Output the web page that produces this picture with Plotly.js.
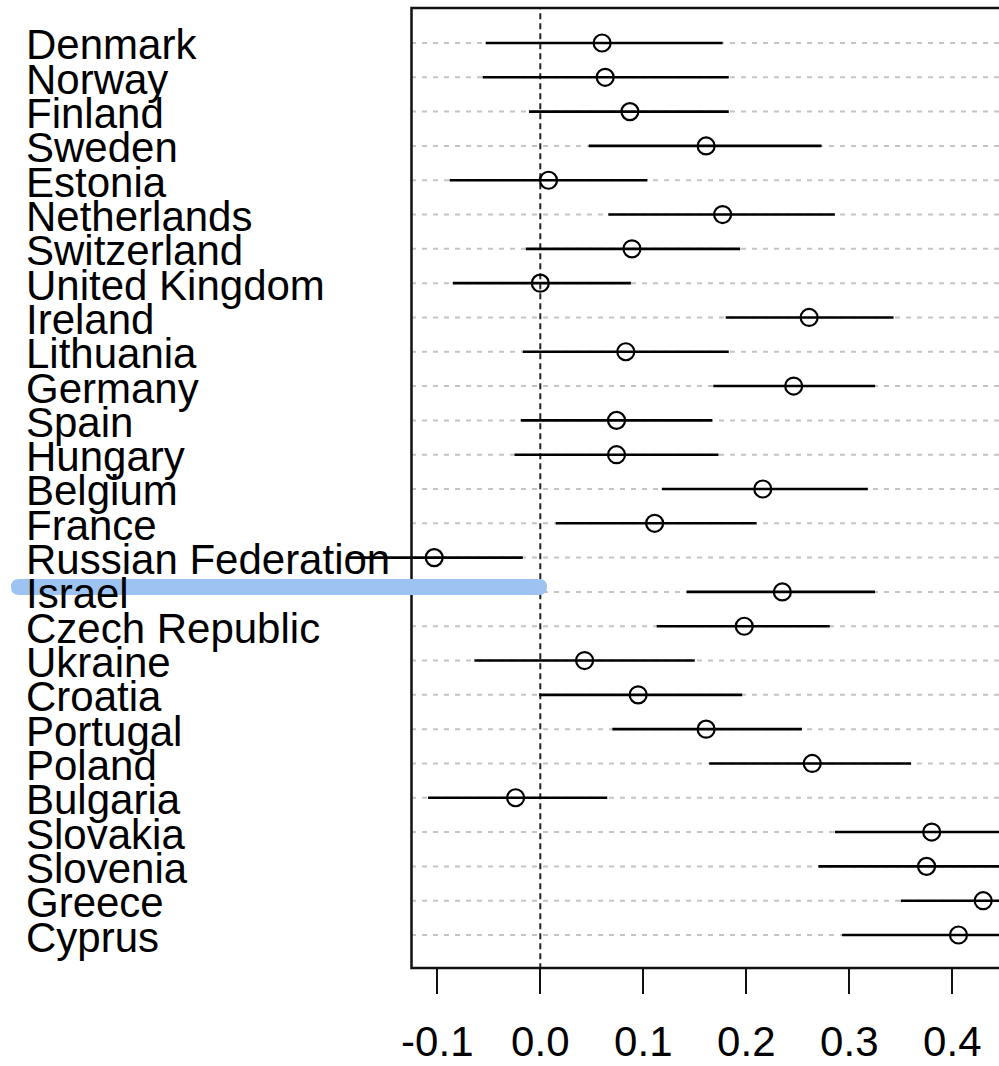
<!DOCTYPE html>
<html>
<head>
<meta charset="utf-8">
<script src="https://cdn.plot.ly/plotly-3.0.1.min.js"></script>
<style>html,body{margin:0;padding:0;background:#fff;}#chart{width:999px;height:1066px;}</style>
</head>
<body>
<div id="chart"></div>
<script>
var countries = ["Denmark","Norway","Finland","Sweden","Estonia","Netherlands","Switzerland","United Kingdom","Ireland","Lithuania","Germany","Spain","Hungary","Belgium","France","Russian Federation","Israel","Czech Republic","Ukraine","Croatia","Portugal","Poland","Bulgaria","Slovakia","Slovenia","Greece","Cyprus"];
var estimate = [0.060,0.063,0.087,0.161,0.008,0.177,0.089,0.000,0.261,0.083,0.246,0.074,0.074,0.216,0.111,-0.103,0.235,0.198,0.043,0.095,0.161,0.264,-0.024,0.380,0.375,0.430,0.406];
var lower = [-0.053,-0.056,-0.011,0.047,-0.088,0.066,-0.014,-0.085,0.180,-0.017,0.168,-0.019,-0.025,0.118,0.015,-0.187,0.142,0.113,-0.064,-0.001,0.070,0.164,-0.109,0.286,0.270,0.350,0.293];
var upper = [0.177,0.183,0.183,0.273,0.104,0.286,0.194,0.088,0.343,0.183,0.325,0.167,0.173,0.318,0.210,-0.017,0.325,0.281,0.150,0.196,0.254,0.360,0.065,0.474,0.480,0.510,0.519];
var tickVals = [-0.1,0.0,0.1,0.2,0.3,0.4];
var tickText = ["-0.1","0.0","0.1","0.2","0.3","0.4"];

var n = countries.length;
var yPos = countries.map(function(c,i){ return n - i; });

// layout geometry (pixels)
var W = 999, H = 1066;
var mL = 330, mR = 0, mT = 8, mB = 98;
var plotW = W - mL - mR, plotH = H - mT - mB;
function px2paperX(px){ return (px - mL) / plotW; }
function px2paperY(py){ return (H - mB - py) / plotH; }
var frameLeftData = -0.1255;

// CI segments
var segX = [], segY = [];
for (var i = 0; i < n; i++) {
  segX.push(lower[i], upper[i], null);
  segY.push(yPos[i], yPos[i], null);
}

var traces = [
  {type:'scatter', mode:'lines', x:segX, y:segY, line:{color:'#000', width:2.6}, hoverinfo:'skip', showlegend:false},
  {type:'scatter', mode:'markers', x:estimate, y:yPos, marker:{symbol:'circle-open', size:17, color:'#000', line:{width:2.2, color:'#000'}}, showlegend:false, cliponaxis:false}
];

var shapes = [];
// dotted gridlines
for (var j = 0; j < n; j++) {
  shapes.push({type:'line', xref:'x', yref:'y', x0:frameLeftData, x1:0.6, y0:yPos[j], y1:yPos[j], layer:'below', line:{color:'#c4c4c4', width:2, dash:'5px,6px'}});
}
// vertical dashed line at 0
shapes.push({type:'line', xref:'x', yref:'y', x0:0, x1:0, y0:0, y1:30, layer:'below', line:{color:'#222', width:2, dash:'6px,4px'}});
// frame
shapes.push({type:'rect', xref:'paper', yref:'paper', x0:px2paperX(411.5), x1:1.1, y0:0, y1:1, layer:'above', line:{color:'#111', width:2.5}});
// blue highlight bar (rounded)
(function(){
  var x0 = px2paperX(11), x1 = px2paperX(547);
  var yt = px2paperY(579), yb = px2paperY(595), ym = px2paperY(587);
  var rx = 8 / plotW;
  var p = 'M ' + (x0+rx) + ',' + yt + ' L ' + (x1-rx) + ',' + yt +
          ' Q ' + x1 + ',' + yt + ' ' + x1 + ',' + ym +
          ' Q ' + x1 + ',' + yb + ' ' + (x1-rx) + ',' + yb +
          ' L ' + (x0+rx) + ',' + yb +
          ' Q ' + x0 + ',' + yb + ' ' + x0 + ',' + ym +
          ' Q ' + x0 + ',' + yt + ' ' + (x0+rx) + ',' + yt + ' Z';
  shapes.push({type:'path', xref:'paper', yref:'paper', path:p, fillcolor:'#9dc3f3', line:{width:0}, layer:'above'});
})();

var annotations = countries.map(function(c,i){
  return {xref:'paper', yref:'y', x:px2paperX(24), y:yPos[i], yshift:-2, xanchor:'left', yanchor:'middle', text:c, showarrow:false,
          font:{family:'Liberation Sans, Arial, sans-serif', size:42, color:'#000'}};
});

var layout = {
  width:W, height:H,
  margin:{l:mL, r:mR, t:mT, b:mB, pad:0},
  paper_bgcolor:'#fff', plot_bgcolor:'#fff',
  showlegend:false,
  xaxis:{range:[(mL-540.3)/1030, (W-mR-540.3)/1030], showgrid:false, zeroline:false, showline:false,
         ticks:'outside', ticklen:25, tickwidth:2.2, tickcolor:'#111',
         tickvals:tickVals, ticktext:tickText, ticklabelstandoff:12,
         tickfont:{family:'Liberation Sans, Arial, sans-serif', size:42, color:'#000'}},
  yaxis:{range:[0.038, 28.02], visible:false, showgrid:false, zeroline:false},
  shapes:shapes,
  annotations:annotations
};

Plotly.newPlot('chart', traces, layout, {displayModeBar:false, staticPlot:true});
</script>
</body>
</html>
